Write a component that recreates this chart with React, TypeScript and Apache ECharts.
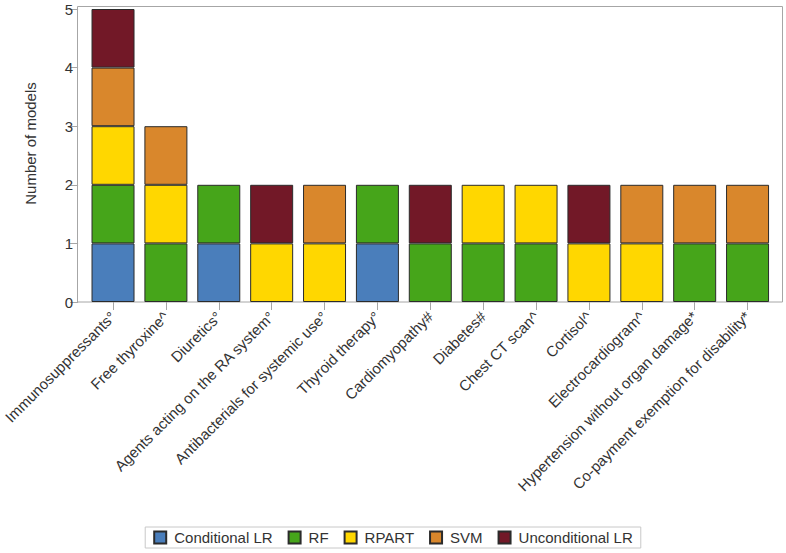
import React, { useEffect, useRef } from "react";
import * as echarts from "echarts";

const categories = [
  "Immunosuppressants°",
  "Free thyroxine^",
  "Diuretics°",
  "Agents acting on the RA system°",
  "Antibacterials for systemic use°",
  "Thyroid therapy°",
  "Cardiomyopathy#",
  "Diabetes#",
  "Chest CT scan^",
  "Cortisol^",
  "Electrocardiogram^",
  "Hypertension without organ damage*",
  "Co-payment exemption for disability*",
];

const seriesNames = ["Conditional LR", "RF", "RPART", "SVM", "Unconditional LR"];
const seriesColors = ["#4a7ebb", "#46a51a", "#ffd700", "#d9872c", "#721827"];

const conditionalLR = [1, null, 1, null, null, 1, null, null, null, null, null, null, null];
const rf = [1, 1, 1, null, null, 1, 1, 1, 1, null, null, 1, 1];
const rpart = [1, 1, null, 1, 1, null, null, 1, 1, 1, 1, null, null];
const svm = [1, 1, null, null, 1, null, null, null, null, null, 1, 1, 1];
const unconditionalLR = [1, null, null, 1, null, null, 1, null, null, 1, null, null, null];

const seriesData = [conditionalLR, rf, rpart, svm, unconditionalLR];

const yTicks = [0, 1, 2, 3, 4, 5];

const FONT = "'Liberation Sans', Arial, Helvetica, sans-serif";
const TEXT = "#333333";
const AXIS = "#a6a6a6";

export default function App() {
  const ref = useRef<HTMLDivElement>(null);
  useEffect(() => {
    if (!ref.current) return;
    const chart = echarts.init(ref.current, undefined, { renderer: "svg" });
    chart.setOption({
      animation: false,
      backgroundColor: "#ffffff",
      textStyle: { fontFamily: FONT },
      grid: { left: 85.5, right: 12, top: 9, bottom: 251, containLabel: false },
      graphic: [
        {
          type: "rect",
          shape: { x: 77.5, y: 6.5, width: 705, height: 295.5 },
          style: { fill: "none", stroke: AXIS, lineWidth: 1 },
          silent: true,
          z: 0,
        },
      ],
      xAxis: {
        type: "category",
        data: categories,
        axisLine: { show: false },
        axisTick: { show: true, alignWithLabel: true, length: 8, lineStyle: { color: AXIS } },
        axisLabel: {
          interval: 0,
          rotate: 45,
          margin: 12,
          fontSize: 15,
          color: TEXT,
          fontFamily: FONT,
        },
        splitLine: { show: false },
      },
      yAxis: {
        type: "value",
        min: yTicks[0],
        max: yTicks[yTicks.length - 1],
        interval: 1,
        offset: 8.5,
        name: "Number of models",
        nameLocation: "middle",
        nameGap: 40,
        nameTextStyle: { fontSize: 15, color: TEXT, fontFamily: FONT, padding: [0, 0, 0, 24] },
        axisLine: { show: false },
        axisTick: { show: true, length: 8, lineStyle: { color: AXIS } },
        axisLabel: { fontSize: 15, color: TEXT, margin: 5, fontFamily: FONT },
        splitLine: { show: false },
      },
      legend: {
        left: "center",
        top: 527,
        itemWidth: 12,
        itemHeight: 12,
        itemGap: 15,
        icon: "rect",
        padding: [3, 8, 3, 8],
        borderColor: "#c8c8c8",
        borderWidth: 1,
        textStyle: { fontSize: 15, color: TEXT, fontFamily: FONT, padding: [0, 0, 0, 3] },
        data: seriesNames,
      },
      series: seriesNames.map((name, i) => ({
        name,
        type: "bar",
        stack: "total",
        barWidth: 43,
        data: seriesData[i],
        itemStyle: { color: seriesColors[i], borderColor: "#2b2b2b", borderWidth: 1 },
      })),
    });
    return () => chart.dispose();
  }, []);
  return (
    <div
      ref={ref}
      style={{ position: "fixed", left: 0, top: 0, width: 786, height: 553, background: "#fff" }}
    />
  );
}
